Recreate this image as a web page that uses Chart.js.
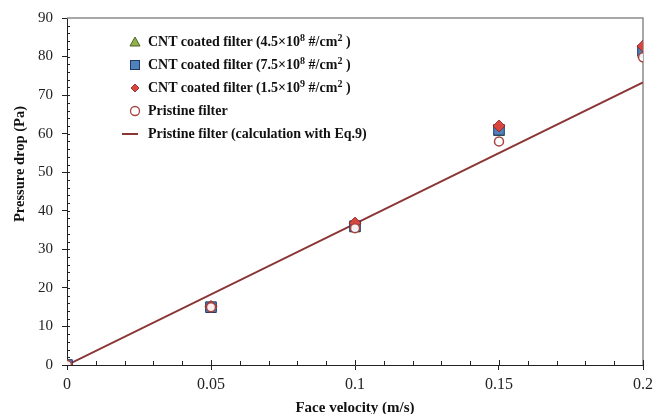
<!DOCTYPE html>
<html>
<head>
<meta charset="utf-8">
<script src="https://cdn.jsdelivr.net/npm/chart.js@4.4.1/dist/chart.umd.min.js"></script>
<style>
  body { margin: 0; background: #fff; }
  .wrap { position: relative; width: 663px; height: 414px; }
  .legend {
    position: absolute; left: 112px; top: 30px;
    font: bold 14px "Liberation Serif", "DejaVu Serif", serif; color: #111;
  }
  .legend .row { position: relative; height: 23px; line-height: 23px; padding-left: 36px; white-space: nowrap; }
  .legend svg { position: absolute; left: 0; top: 4px; }
  .legend sup { font-size: 10px; line-height: 0; vertical-align: 5px; }
</style>
</head>
<body>
<div class="wrap">
  <canvas id="chart" width="663" height="414"></canvas>
  <div class="legend">
    <div class="row"><svg width="32" height="16"><polygon points="23,3 28,12 18,12" fill="#8fb04a" stroke="#4f6228" stroke-width="1"/></svg>CNT coated filter (4.5×10<sup>8</sup> #/cm<sup>2</sup> )</div>
    <div class="row"><svg width="32" height="16"><rect x="18.5" y="3.5" width="9" height="9" fill="#4f81bd" stroke="#1f3864" stroke-width="1"/></svg>CNT coated filter (7.5×10<sup>8</sup> #/cm<sup>2</sup> )</div>
    <div class="row"><svg width="32" height="16"><polygon points="23,4 27,8 23,12 19,8" fill="#d8453e" stroke="#8b2020" stroke-width="0.8"/></svg>CNT coated filter (1.5×10<sup>9</sup> #/cm<sup>2</sup> )</div>
    <div class="row"><svg width="32" height="16"><circle cx="23" cy="8" r="4.5" fill="#fff" stroke="#a5443f" stroke-width="1.3"/></svg>Pristine filter</div>
    <div class="row"><svg width="32" height="16"><line x1="10" y1="8" x2="26" y2="8" stroke="#8b3535" stroke-width="2"/></svg>Pristine filter (calculation with Eq.9)</div>
  </div>
</div>
<script>
const velocity = [0, 0.05, 0.1, 0.15, 0.2];
const cnt45 = [0, 15, 35.3, 60.3, 80.6];
const cnt75 = [0, 15, 36, 61, 81.5];
const cnt15 = [0, 15.2, 36.8, 62, 82.7];
const pristine = [0, 15, 35.5, 58, 79.8];
const calcVelocity = [0, 0.2];
const calcPressure = [0, 73.3];

const xyOf = (xs, ys) => xs.map((x, i) => ({ x: x, y: ys[i] }));
const serif = '"Liberation Serif", "DejaVu Serif", serif';

// grey frame top/right, minor tick marks, and the y title (sits above centre in the original)
const frameAndMinor = {
  id: "frameAndMinor",
  beforeDatasetsDraw(chart) {
    const { ctx, chartArea: a, scales } = chart;
    ctx.save();
    ctx.strokeStyle = "#8c8c8c";
    ctx.lineWidth = 1.5;
    ctx.beginPath();
    ctx.moveTo(a.left, a.top);
    ctx.lineTo(a.right, a.top);
    ctx.lineTo(a.right, a.bottom);
    ctx.stroke();

    ctx.strokeStyle = "#222";
    ctx.lineWidth = 1;
    ctx.beginPath();
    for (let v = 2; v < 90; v += 2) {
      const y = Math.round(scales.y.getPixelForValue(v)) + 0.5;
      ctx.moveTo(a.left, y);
      ctx.lineTo(a.left + 3, y);
    }
    for (let k = 1; k <= 20; k++) {
      const x = Math.round(scales.x.getPixelForValue(k / 100)) + 0.5;
      ctx.moveTo(x, a.bottom);
      ctx.lineTo(x, a.bottom - (k % 5 === 0 ? 5 : 4));
    }
    ctx.stroke();

    ctx.translate(20, 164);
    ctx.rotate(-Math.PI / 2);
    ctx.fillStyle = "#111";
    ctx.font = "bold 14.5px " + serif;
    ctx.textAlign = "center";
    ctx.textBaseline = "middle";
    ctx.fillText("Pressure drop (Pa)", 0, 0);
    ctx.restore();
  }
};

new Chart(document.getElementById("chart"), {
  type: "scatter",
  data: {
    datasets: [
      {
        type: "line",
        label: "Pristine filter (calculation with Eq.9)",
        data: xyOf(calcVelocity, calcPressure),
        borderColor: "#8b3535",
        borderWidth: 2,
        pointRadius: 0,
        fill: false,
        order: 5
      },
      {
        label: "CNT coated filter (4.5×10⁸ #/cm²)",
        data: xyOf(velocity, cnt45),
        pointStyle: "triangle",
        pointRadius: 6,
        backgroundColor: "#8fb04a",
        borderColor: "#4f6228",
        borderWidth: 1,
        order: 4
      },
      {
        label: "CNT coated filter (7.5×10⁸ #/cm²)",
        data: xyOf(velocity, cnt75),
        pointStyle: "rect",
        pointRadius: 7.5,
        backgroundColor: "#4f81bd",
        borderColor: "#1f3864",
        borderWidth: 1,
        order: 3
      },
      {
        label: "CNT coated filter (1.5×10⁹ #/cm²)",
        data: xyOf(velocity, cnt15),
        pointStyle: "rectRot",
        pointRadius: 6,
        backgroundColor: "#d8453e",
        borderColor: "#8b2020",
        borderWidth: 0.8,
        order: 2
      },
      {
        label: "Pristine filter",
        data: xyOf(velocity, pristine),
        pointStyle: "circle",
        pointRadius: 4.5,
        backgroundColor: "rgba(255,255,255,0.9)",
        borderColor: "#a5443f",
        borderWidth: 1.5,
        order: 1
      }
    ]
  },
  options: {
    responsive: false,
    animation: false,
    layout: { padding: { top: 15, right: 20, left: 0, bottom: 0 } },
    plugins: { legend: { display: false }, tooltip: { enabled: false } },
    scales: {
      x: {
        type: "linear",
        min: 0,
        max: 0.2,
        afterFit: (s) => { s.height = 49; },
        ticks: {
          stepSize: 0.05,
          padding: 5,
          color: "#222",
          font: { family: serif, size: 16 },
          callback: (v) => String(+v.toFixed(2))
        },
        grid: { drawOnChartArea: false, tickLength: 5, color: "#222" },
        border: { display: true, color: "#222", width: 1 },
        title: {
          display: true,
          text: "Face velocity (m/s)",
          color: "#111",
          font: { family: serif, size: 15, weight: "bold" },
          padding: { top: 0, bottom: -3 }
        }
      },
      y: {
        min: 0,
        max: 90,
        afterFit: (s) => { s.width = 67; },
        ticks: {
          stepSize: 10,
          padding: 9,
          color: "#222",
          font: { family: serif, size: 15 }
        },
        grid: { drawOnChartArea: false, tickLength: 5, color: "#222" },
        border: { display: true, color: "#222", width: 1 }
      }
    }
  },
  plugins: [frameAndMinor]
});
</script>
</body>
</html>
